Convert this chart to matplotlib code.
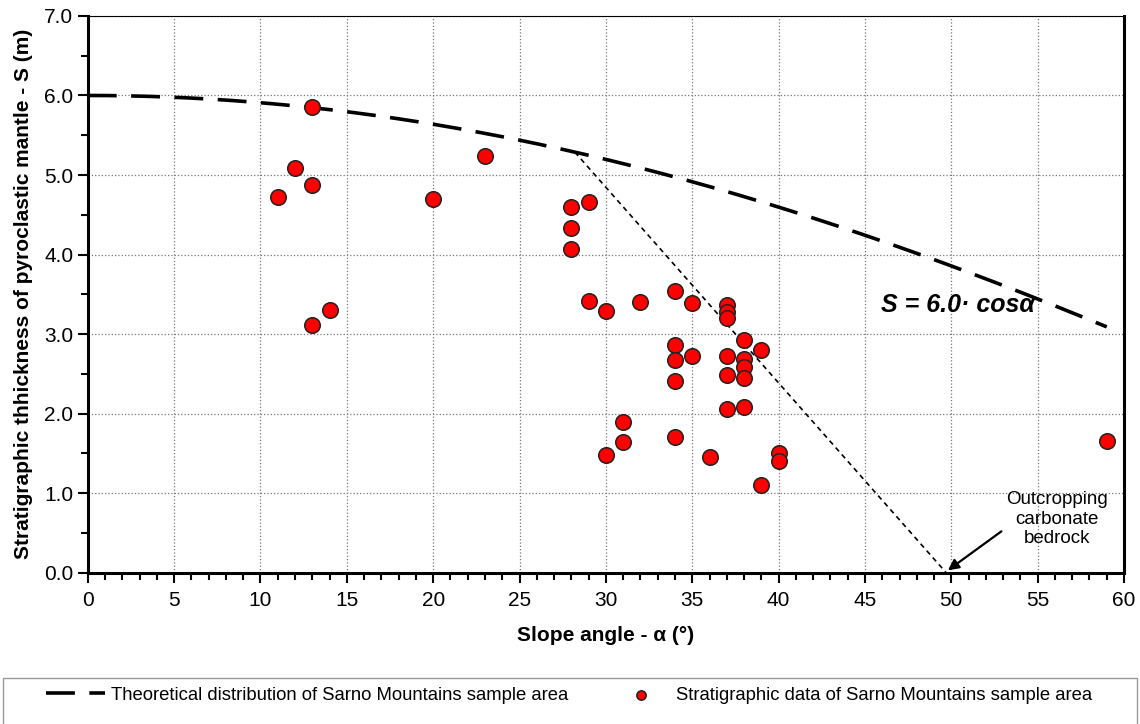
import numpy as np
import matplotlib.pyplot as plt
from matplotlib.patches import Rectangle
from matplotlib.ticker import MultipleLocator, FormatStrFormatter

plt.rcParams['font.family'] = ['Liberation Sans', 'DejaVu Sans']

# field data (slope angle in degrees, thickness in m)
slope = [11, 12, 13, 13, 13, 14, 20, 23, 28, 28, 28, 29, 29, 30, 30, 31, 31, 32,
         34, 34, 34, 34, 34, 35, 35, 36, 37, 37, 37, 37, 37, 37,
         38, 38, 38, 38, 38, 39, 39, 40, 40, 59]
thick = [4.72, 5.09, 4.87, 5.85, 3.12, 3.30, 4.70, 5.24, 4.60, 4.33, 4.07, 4.66, 3.42,
         3.29, 1.48, 1.89, 1.64, 3.40, 3.54, 2.86, 2.67, 2.41, 1.71, 3.39, 2.72,
         1.46, 3.36, 3.28, 3.20, 2.73, 2.49, 2.06, 2.93, 2.69, 2.58, 2.45, 2.08,
         2.80, 1.10, 1.50, 1.40, 1.66]

# theoretical curve S = 6.0 cos(alpha)
S0 = 6.0
alpha = np.linspace(0, 59, 200)
S_theo = S0 * np.cos(np.radians(alpha))

# limit line down to outcropping bedrock
limit_x = [28.2, 49.7]
limit_y = [S0 * np.cos(np.radians(28.2)), 0.0]

fig = plt.figure(figsize=(11.4, 7.24), dpi=100)
ax = fig.add_axes([0.077, 0.209, 0.909, 0.769])

ax.plot(alpha, S_theo, color='black', lw=2.6, dashes=(8, 4),
        label='Theoretical distribution of Sarno Mountains sample area', zorder=3)
ax.plot(limit_x, limit_y, color='black', lw=1.2, dashes=(3, 2.5), zorder=3)
ax.scatter(slope, thick, s=125, c='#ff0000', edgecolors='#222222', linewidths=1.1,
           label='Stratigraphic data of Sarno Mountains sample area', zorder=4)

ax.set_xlim(0, 60)
ax.set_ylim(0, 7)
ax.xaxis.set_major_locator(MultipleLocator(5))
ax.xaxis.set_minor_locator(MultipleLocator(1))
ax.yaxis.set_major_locator(MultipleLocator(1))
ax.yaxis.set_minor_locator(MultipleLocator(0.5))
ax.yaxis.set_major_formatter(FormatStrFormatter('%.1f'))
ax.tick_params(which='both', direction='out', labelsize=15, width=1.5)
ax.tick_params(which='major', length=7)
ax.tick_params(which='minor', length=5)
ax.tick_params(axis='x', pad=6)
ax.grid(True, which='major', color='#777777', linestyle=':', lw=0.9)
for side in ['left', 'bottom', 'right']:
    ax.spines[side].set_linewidth(2.2)
ax.spines['top'].set_linewidth(0.8)

ax.set_xlabel('Slope angle - \u03b1 (\u00b0)', fontsize=15, fontweight='bold', labelpad=12)
ax.set_ylabel('Stratigraphic thhickness of pyroclastic mantle - S (m)', fontsize=15,
              fontweight='bold', labelpad=8)

ax.text(45.9, 3.37, 'S = 6.0\u00b7 cos\u03b1', fontsize=18, fontweight='bold',
        fontstyle='italic', va='center', ha='left')

ax.text(56.1, 0.67, 'Outcropping\ncarbonate\nbedrock', fontsize=13.5,
        ha='center', va='center', linespacing=1.2)
ax.annotate('', xy=(49.8, 0.03), xytext=(52.9, 0.52),
            arrowprops=dict(arrowstyle='-|>', color='black', lw=1.6,
                            shrinkA=0, shrinkB=0, mutation_scale=16))

# legend box under the plot
fig.patches.append(Rectangle((0.003, -0.01), 0.994, 0.074, transform=fig.transFigure,
                             fill=False, edgecolor='#999999', lw=1.0))
fig.legend(loc='center left', bbox_to_anchor=(0.026, 0.04), ncol=2, fontsize=13.3,
           frameon=False, handlelength=3.2, handletextpad=0.3, columnspacing=2.35,
           markerscale=0.6)

fig.savefig('out.png', dpi=100)
